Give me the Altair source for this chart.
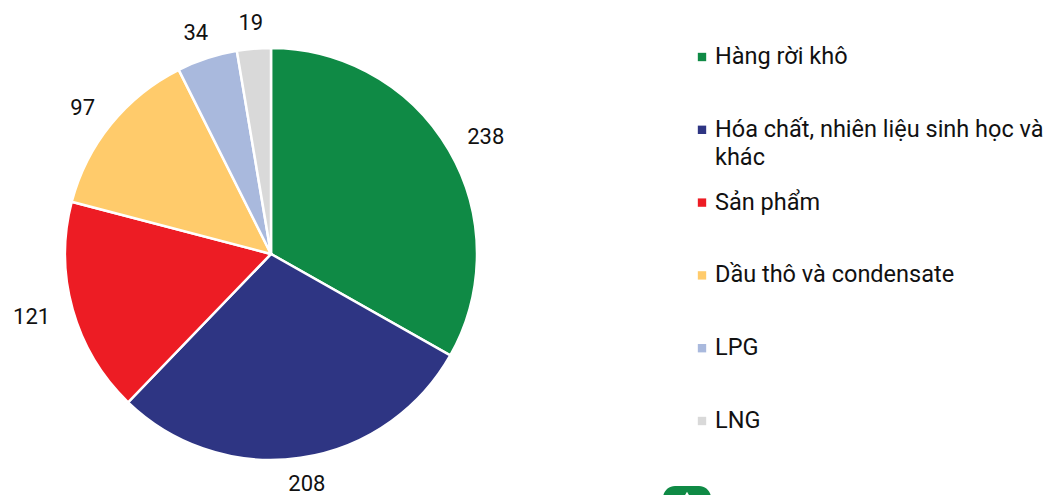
import altair as alt
import pandas as pd

categories = ["Hàng rời khô", "Hóa chất, nhiên liệu sinh học và\nkhác", "Sản phẩm",
              "Dầu thô và condensate", "LPG", "LNG"]
values = [238, 208, 121, 97, 34, 19]
colors = ["#0F8A45", "#2E3583", "#ED1C24", "#FFCB6B", "#A9B9DD", "#D9D9D9"]

df = pd.DataFrame({"cat": categories, "value": values, "order": list(range(len(values)))})

FONT = "Roboto"
CX, CY, R = 271, 254, 206
FS = 22
LFS = 23.5

color = alt.Color("cat:N", scale=alt.Scale(domain=categories, range=colors), legend=None)
ident = alt.Scale(domain=[0, 1053], range=[0, 1053])
identy = alt.Scale(domain=[0, 495], range=[0, 495])

base = alt.Chart(df)

pie = base.mark_arc(outerRadius=R, stroke="white", strokeWidth=2.5).encode(
    theta=alt.Theta("value:Q", stack=True),
    order=alt.Order("order:Q"),
    color=color,
    x=alt.value(CX), y=alt.value(CY),
)

labels = base.transform_window(
    cum="sum(value)", sort=[alt.SortField("order")]
).transform_joinaggregate(total="sum(value)").transform_calculate(
    mid="(datum.cum - datum.value/2) / datum.total * 2 * PI",
    w="length(toString(datum.value)) * 12.4",
).transform_calculate(
    lx=f"{CX} + sin(datum.mid) * (230 + datum.w/2)",
    ly=f"{CY} - cos(datum.mid) * 232",
).mark_text(font=FONT, fontSize=FS, color="#111", baseline="middle").encode(
    x=alt.X("lx:Q", scale=ident, axis=None),
    y=alt.Y("ly:Q", scale=identy, axis=None),
    text=alt.Text("value:Q"),
)

leg_y = alt.Y("order:Q", scale=alt.Scale(domain=[0, 5], range=[57, 421]), axis=None)

leg_sq = base.mark_square(size=70, opacity=1).encode(
    x=alt.value(702), y=leg_y, color=color,
)
leg_txt = base.mark_text(align="left", baseline="top", dy=-12, font=FONT, fontSize=LFS,
                         lineBreak="\n", lineHeight=28, color="#111").encode(
    x=alt.value(715), y=leg_y, text="cat:N",
)
legend = alt.layer(leg_sq, leg_txt)

logo = alt.Chart(pd.DataFrame({"a": [0]})).mark_rect(color="#0F8A45", cornerRadius=12).encode(
    x=alt.value(663), x2=alt.value(711), y=alt.value(486), y2=alt.value(515)
)
logo_tri = alt.Chart(pd.DataFrame({"a": [0]})).mark_point(
    shape="triangle-up", filled=True, color="white", size=60, opacity=1
).encode(x=alt.value(687), y=alt.value(495))

chart = alt.layer(pie, labels, legend, logo, logo_tri).resolve_scale(
    x="independent", y="independent"
).properties(
    width=1053, height=495, padding=0, background="white",
    autosize=alt.AutoSizeParams(type="none"),
).configure_view(stroke=None)

chart.save("out.html", embed_options={"renderer": "svg", "actions": False})
